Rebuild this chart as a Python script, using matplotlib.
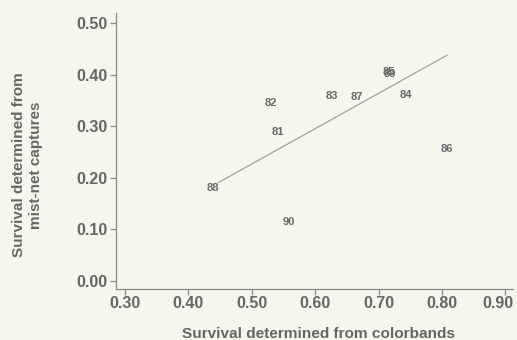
import matplotlib
matplotlib.use('Agg')

import matplotlib.pyplot as plt
import matplotlib.transforms as mtransforms

# survival estimates per year: colorband resightings vs mist-net captures
years = ['81', '82', '83', '84', '85', '86', '87', '88', '89', '90']
colorband = [0.541, 0.530, 0.627, 0.743, 0.716, 0.808, 0.665, 0.438, 0.718, 0.559]
mistnet = [0.288, 0.346, 0.358, 0.360, 0.405, 0.255, 0.356, 0.181, 0.401, 0.115]

# fitted line drawn between its two ends
fit_x = [0.448, 0.808]
fit_y = [0.191, 0.438]

xticks = [0.30, 0.40, 0.50, 0.60, 0.70, 0.80, 0.90]
yticks = [0.00, 0.10, 0.20, 0.30, 0.40, 0.50]

BG = '#f6f6ed'
INK = '#666666'
FONT = ['Liberation Sans', 'DejaVu Sans']

plt.rcParams['font.family'] = FONT
plt.rcParams['font.weight'] = 'bold'

DPI = 100
fig = plt.figure(figsize=(5.17, 3.40), dpi=DPI, facecolor=BG)
ax = fig.add_axes([0.2244, 0.150, 0.768, 0.812])
ax.set_facecolor(BG)

ax.plot(fit_x, fit_y, color='#a0a0a0', linewidth=0.9)

for lab, x, y in zip(years, colorband, mistnet):
    ax.text(x, y, lab, ha='center', va='center', fontsize=8,
            fontweight='bold', color='#686868')

ax.set_xlim(0.286, 0.912)
ax.set_ylim(-0.016, 0.52)
ax.set_xticks(xticks)
ax.set_yticks(yticks)
ax.set_xticklabels(['%.2f' % v for v in xticks])
ax.set_yticklabels(['%.2f' % v for v in yticks])

for side in ['top', 'right']:
    ax.spines[side].set_visible(False)
for side in ['left', 'bottom']:
    ax.spines[side].set_color('#8a8a8a')
    ax.spines[side].set_linewidth(0.9)

ax.tick_params(axis='both', colors='#8a8a8a', labelcolor=INK, labelsize=11.5,
               length=4, width=0.9, direction='out')
ax.tick_params(axis='x', pad=1)
ax.tick_params(axis='y', pad=2)

# keep the last x label inside the figure edge
last = ax.get_xticklabels()[-1]
last.set_horizontalalignment('right')
last.set_transform(last.get_transform() +
                   mtransforms.ScaledTranslation(8 / DPI, 0, fig.dpi_scale_trans))

ax.set_xlabel('Survival determined from colorbands', fontsize=11.1,
              fontweight='bold', color=INK)
ax.xaxis.set_label_coords(0.51, -0.138)
ax.set_ylabel('Survival determined from\nmist-net captures', fontsize=11,
              fontweight='bold', color=INK, linespacing=1.3)
ax.yaxis.set_label_coords(-0.184, 0.449)

plt.savefig('out.png', dpi=DPI, facecolor=BG)
